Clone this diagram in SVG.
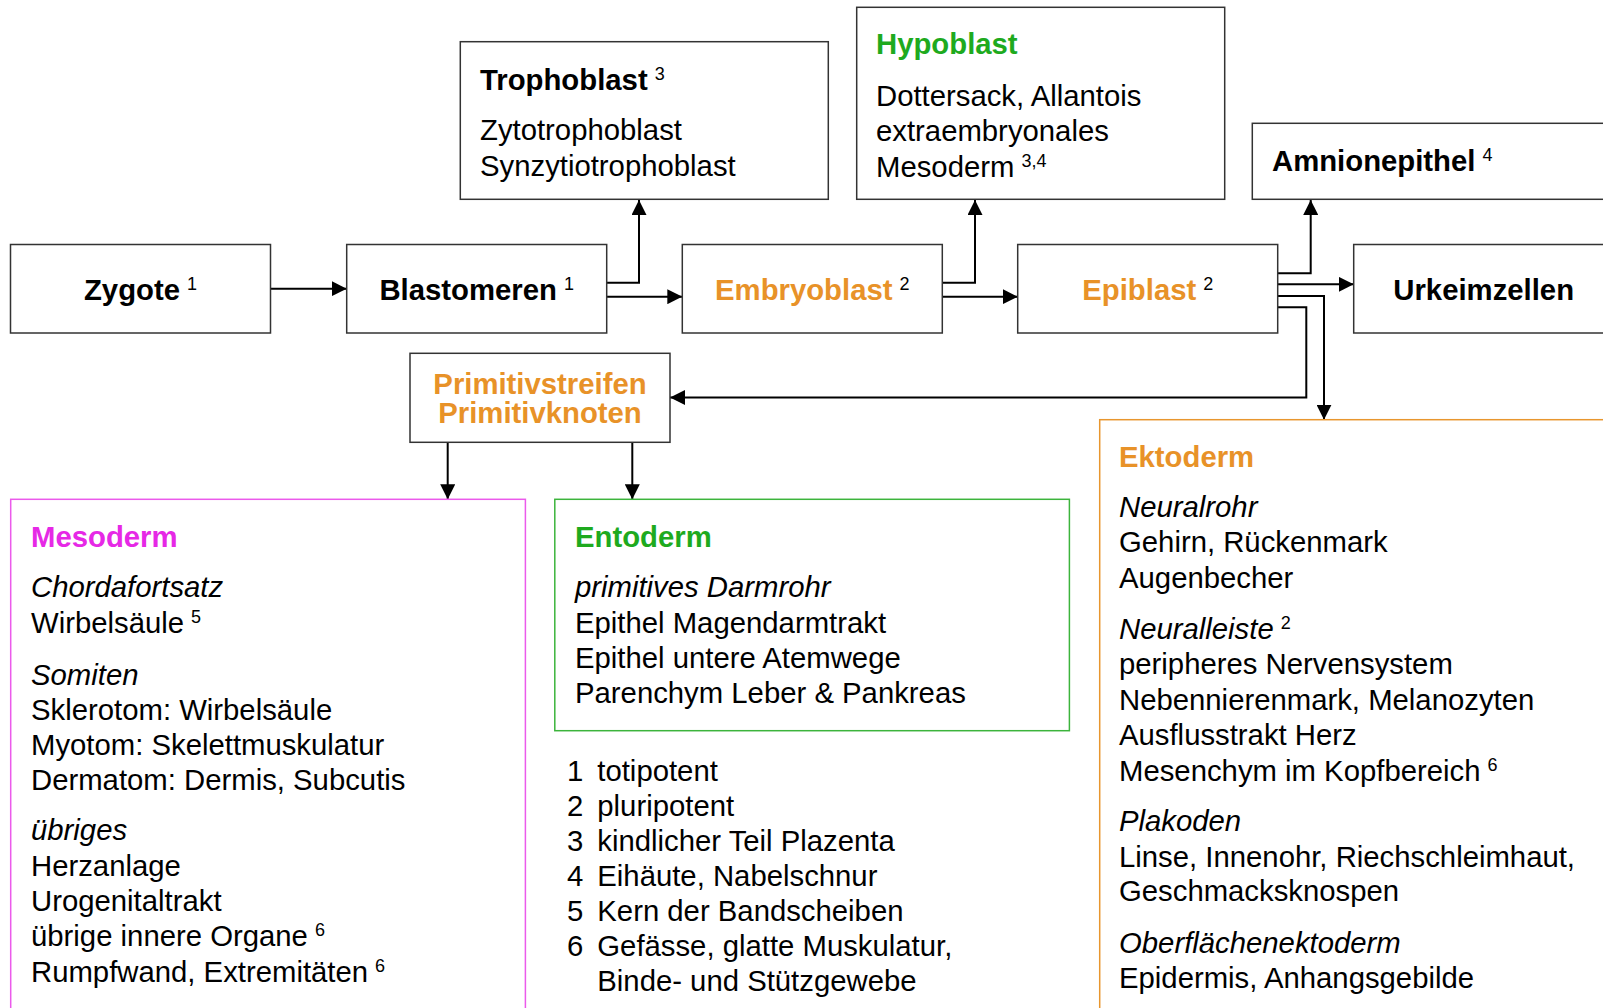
<svg xmlns="http://www.w3.org/2000/svg" width="1603" height="1008" viewBox="0 0 1603 1008">
<style>
text{font-family:"Liberation Sans",Arial,sans-serif;font-size:29.3px;fill:#000}
.b{font-weight:bold}
.i{font-style:italic}
.or{fill:#E89228}
.gr{fill:#1EAA1E}
.mg{fill:#E628E6}
.sup{font-size:18px;font-weight:normal;font-style:normal}
.box{fill:#fff;stroke:#333;stroke-width:1.5}
.c{fill:none;stroke:#000;stroke-width:2}
</style>
<defs>
<marker id="ah" markerWidth="15" markerHeight="15" refX="15" refY="7.5" orient="auto" markerUnits="userSpaceOnUse"><path d="M0,0 L15,7.5 L0,15 z" fill="#000"/></marker>
</defs>
<rect width="1603" height="1008" fill="#fff"/>

<g id="connectors">
<path class="c" marker-end="url(#ah)" d="M270.5,288.7 H346.7"/>
<path class="c" marker-end="url(#ah)" d="M606.7,282.7 H639 V200"/>
<path class="c" marker-end="url(#ah)" d="M606.7,296.7 H682.3"/>
<path class="c" marker-end="url(#ah)" d="M942.3,282.7 H975 V200"/>
<path class="c" marker-end="url(#ah)" d="M942.3,296.7 H1017.7"/>
<path class="c" marker-end="url(#ah)" d="M1278,273.3 H1310.7 V200"/>
<path class="c" marker-end="url(#ah)" d="M1278,284.3 H1353.7"/>
<path class="c" marker-end="url(#ah)" d="M1278,296 H1324 V419.7"/>
<path class="c" marker-end="url(#ah)" d="M1278,307.3 H1306.3 V397.5 H670"/>
<path class="c" marker-end="url(#ah)" d="M447.7,442.3 V499.3"/>
<path class="c" marker-end="url(#ah)" d="M632.3,442.3 V499.3"/>
</g>

<g id="zygote">
<rect class="box" x="10.5" y="244.5" width="260" height="88.5"/>
<text class="b" x="140.5" y="300" text-anchor="middle">Zygote<tspan class="sup" dx="7" dy="-10">1</tspan></text>
</g>
<g id="blastomeren">
<rect class="box" x="346.7" y="244.5" width="260" height="88.5"/>
<text class="b" x="476.7" y="300" text-anchor="middle">Blastomeren<tspan class="sup" dx="7" dy="-10">1</tspan></text>
</g>
<g id="embryoblast">
<rect class="box" x="682.3" y="244.5" width="260" height="88.5"/>
<text class="b or" x="812.3" y="300" text-anchor="middle">Embryoblast<tspan class="sup" dx="7" dy="-10" style="fill:#000">2</tspan></text>
</g>
<g id="epiblast">
<rect class="box" x="1017.7" y="244.5" width="260" height="88.5"/>
<text class="b or" x="1147.8" y="300" text-anchor="middle">Epiblast<tspan class="sup" dx="7" dy="-10" style="fill:#000">2</tspan></text>
</g>
<g id="urkeimzellen">
<rect class="box" x="1353.7" y="244.5" width="260" height="88.5"/>
<text class="b" x="1483.7" y="300" text-anchor="middle">Urkeimzellen</text>
</g>

<g id="trophoblast">
<rect class="box" x="460.3" y="41.7" width="368" height="157.6"/>
<text class="b" x="480" y="90">Trophoblast<tspan class="sup" dx="7" dy="-10">3</tspan></text>
<text x="480" y="140.3">Zytotrophoblast</text>
<text x="480" y="175.7">Synzytiotrophoblast</text>
</g>
<g id="hypoblast">
<rect class="box" x="856.7" y="7.3" width="368" height="192"/>
<text class="b gr" x="876" y="54.3">Hypoblast</text>
<text x="876" y="106">Dottersack, Allantois</text>
<text x="876" y="141.3">extraembryonales</text>
<text x="876" y="176.6">Mesoderm<tspan class="sup" dx="7" dy="-10">3,4</tspan></text>
</g>
<g id="amnionepithel">
<rect class="box" x="1252.3" y="123.3" width="400" height="76"/>
<text class="b" x="1272" y="171">Amnionepithel<tspan class="sup" dx="7" dy="-10">4</tspan></text>
</g>

<g id="primitiv">
<rect class="box" x="410" y="353.3" width="260" height="89"/>
<text class="b or" x="540" y="394" text-anchor="middle">Primitivstreifen</text>
<text class="b or" x="540" y="423.3" text-anchor="middle">Primitivknoten</text>
</g>

<g id="mesoderm">
<rect x="10.7" y="499.3" width="514.7" height="600" fill="none" stroke="#EB5AEB" stroke-width="1.5"/>
<text class="b mg" x="31" y="546.7">Mesoderm</text>
<text class="i" x="31" y="597.3">Chordafortsatz</text>
<text x="31" y="632.7">Wirbelsäule<tspan class="sup" dx="7" dy="-10">5</tspan></text>
<text class="i" x="31" y="684.7">Somiten</text>
<text x="31" y="719.7">Sklerotom: Wirbelsäule</text>
<text x="31" y="755">Myotom: Skelettmuskulatur</text>
<text x="31" y="789.7">Dermatom: Dermis, Subcutis</text>
<text class="i" x="31" y="839.7">übriges</text>
<text x="31" y="875.7">Herzanlage</text>
<text x="31" y="911.3">Urogenitaltrakt</text>
<text x="31" y="946.3">übrige innere Organe<tspan class="sup" dx="7" dy="-10">6</tspan></text>
<text x="31" y="982">Rumpfwand, Extremitäten<tspan class="sup" dx="7" dy="-10">6</tspan></text>
</g>

<g id="entoderm">
<rect x="554.8" y="499.3" width="514.6" height="231.4" fill="none" stroke="#3CB43C" stroke-width="1.5"/>
<text class="b gr" x="575" y="546.7">Entoderm</text>
<text class="i" x="575" y="597.3">primitives Darmrohr</text>
<text x="575" y="632.7">Epithel Magendarmtrakt</text>
<text x="575" y="668.3">Epithel untere Atemwege</text>
<text x="575" y="703">Parenchym Leber &amp; Pankreas</text>
</g>

<g id="footnotes">
<text x="567" y="780.7">1</text><text x="597.3" y="780.7">totipotent</text>
<text x="567" y="815.7">2</text><text x="597.3" y="815.7">pluripotent</text>
<text x="567" y="851.3">3</text><text x="597.3" y="851.3">kindlicher Teil Plazenta</text>
<text x="567" y="886.3">4</text><text x="597.3" y="886.3">Eihäute, Nabelschnur</text>
<text x="567" y="921.3">5</text><text x="597.3" y="921.3">Kern der Bandscheiben</text>
<text x="567" y="956.3">6</text><text x="597.3" y="956.3">Gefässe, glatte Muskulatur,</text>
<text x="597.3" y="991.3">Binde- und Stützgewebe</text>
</g>

<g id="ektoderm">
<rect x="1099.7" y="419.7" width="600" height="700" fill="none" stroke="#E8962E" stroke-width="1.5"/>
<text class="b or" x="1119" y="466.7">Ektoderm</text>
<text class="i" x="1119" y="517.3">Neuralrohr</text>
<text x="1119" y="552.3">Gehirn, Rückenmark</text>
<text x="1119" y="588">Augenbecher</text>
<text class="i" x="1119" y="639">Neuralleiste<tspan class="sup" dx="7" dy="-10">2</tspan></text>
<text x="1119" y="674.3">peripheres Nervensystem</text>
<text x="1119" y="709.7">Nebennierenmark, Melanozyten</text>
<text x="1119" y="744.7">Ausflusstrakt Herz</text>
<text x="1119" y="780.7">Mesenchym im Kopfbereich<tspan class="sup" dx="7" dy="-10">6</tspan></text>
<text class="i" x="1119" y="831.3">Plakoden</text>
<text x="1119" y="867.3">Linse, Innenohr, Riechschleimhaut,</text>
<text x="1119" y="901.3">Geschmacksknospen</text>
<text class="i" x="1119" y="953">Oberflächenektoderm</text>
<text x="1119" y="988">Epidermis, Anhangsgebilde</text>
</g>
</svg>
